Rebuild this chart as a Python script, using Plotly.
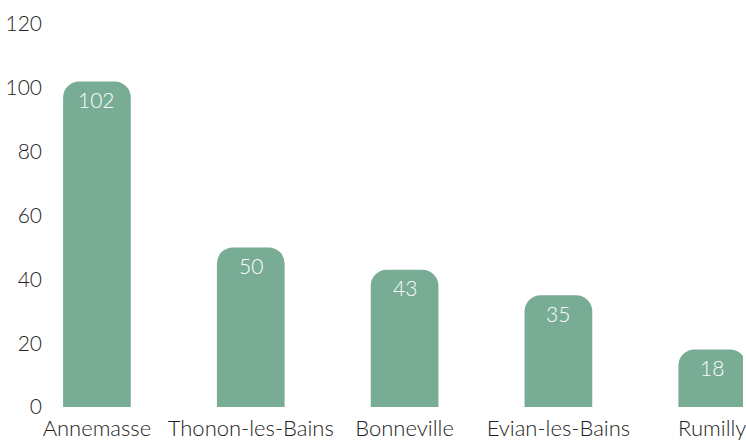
import plotly.graph_objects as go

categories = ["Annemasse", "Thonon-les-Bains", "Bonneville", "Evian-les-Bains", "Rumilly"]
values = [102, 50, 43, 35, 18]
y_ticks = [0, 20, 40, 60, 80, 100, 120]

bar_color = "#78AC95"
font_family = "Lato, 'Open Sans', sans-serif"

fig = go.Figure(
    go.Bar(
        x=categories,
        y=values,
        width=0.44,
        marker=dict(color=bar_color, cornerradius=16, line=dict(width=0)),
        hoverinfo="x+y",
        cliponaxis=False,
    )
)

for c, v in zip(categories, values):
    fig.add_annotation(
        x=c, y=v, text=str(v), showarrow=False,
        xanchor="center", yanchor="middle", yshift=-18,
        font=dict(color="white", size=21, family=font_family, weight=300),
    )

fig.update_layout(
    width=746,
    height=441,
    margin=dict(l=48, r=0, t=24, b=34),
    plot_bgcolor="white",
    paper_bgcolor="white",
    showlegend=False,
    font=dict(family=font_family, size=20, color="#333333", weight=300),
)
fig.update_xaxes(
    range=[-0.318, 4.200],
    showgrid=False,
    zeroline=False,
    showline=False,
    ticks="",
    ticklabelstandoff=6,
    tickfont=dict(size=22, color="#222222", weight=300),
)
fig.update_yaxes(
    range=[0, 120],
    tickvals=y_ticks,
    showgrid=False,
    zeroline=False,
    showline=False,
    ticks="",
    ticklabelstandoff=5,
    tickfont=dict(size=21, color="#222222", weight=300),
)

fig.write_html(
    "out.html",
    config={"displayModeBar": False},
    post_script="document.body.style.margin='0';document.body.style.overflow='hidden';",
)
